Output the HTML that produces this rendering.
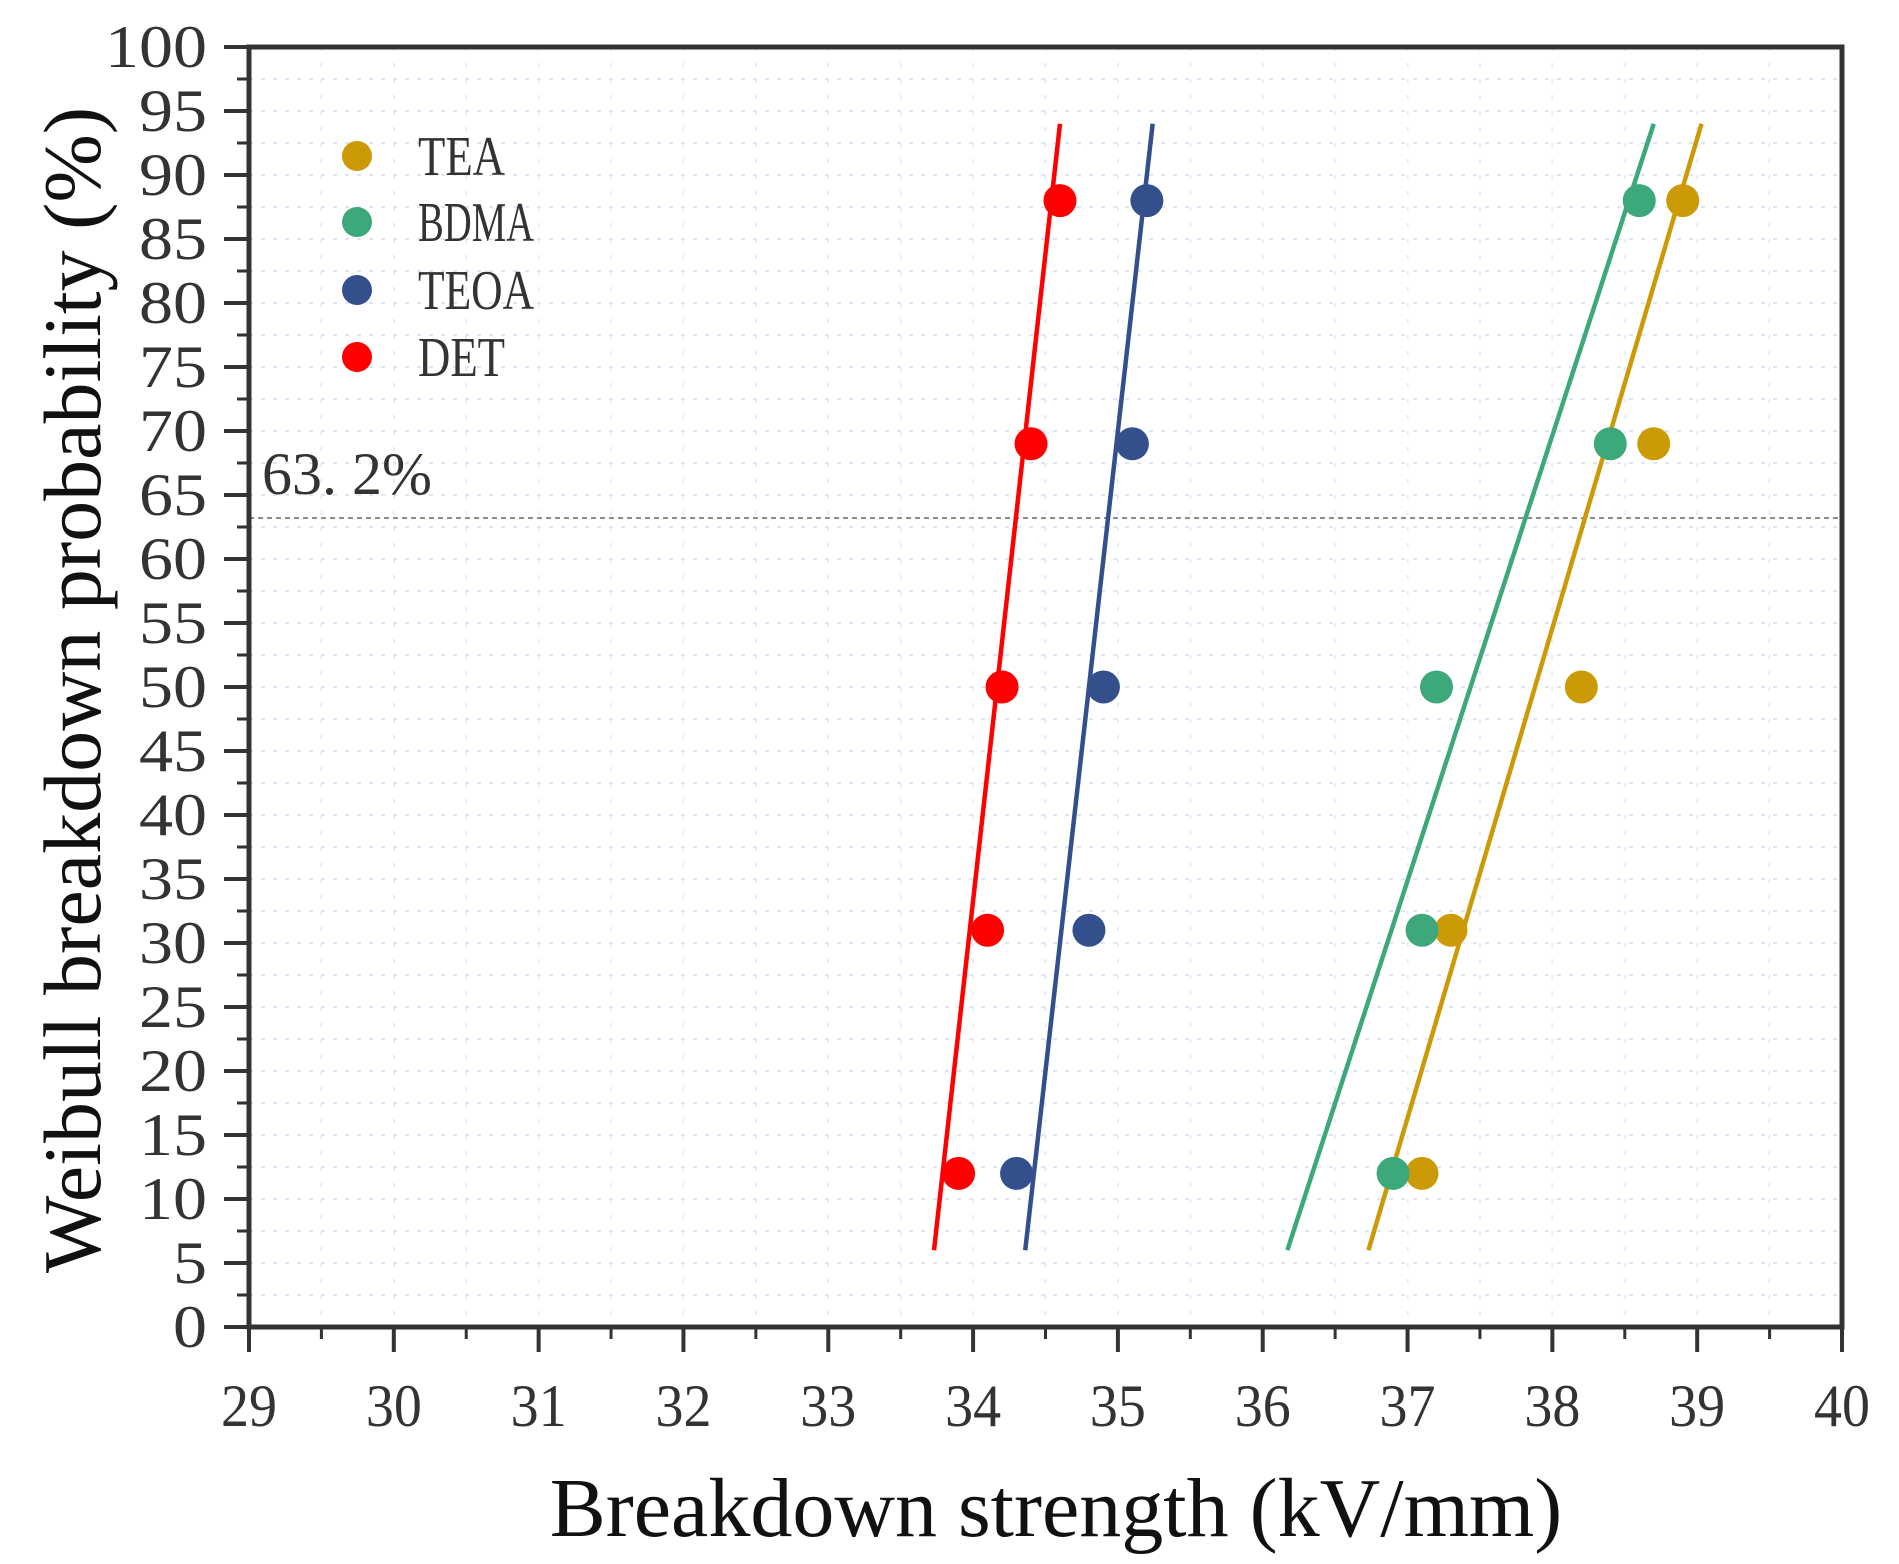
<!DOCTYPE html>
<html><head><meta charset="utf-8"><style>
html,body{margin:0;padding:0;background:#fff;}
svg{display:block;}
text{font-family:"Liberation Serif","Noto Serif CJK SC",serif;}
</style></head><body>
<svg id="chart" width="1899" height="1564" viewBox="0 0 1899 1564" xmlns="http://www.w3.org/2000/svg">
<g id="grid"></g>
<g id="ref"></g>
<g id="fits"></g>
<g id="pts"></g>
<g id="axes"></g>
<g id="legend"></g>
<text x="0" y="0" transform="translate(100,690) rotate(-90)" text-anchor="middle" font-size="82" fill="#111">Weibull breakdown probability (%)</text>
<text x="1056" y="1536" text-anchor="middle" font-size="84" fill="#111">Breakdown strength (kV/mm)</text>
</svg>
<script>
const seriesNames = ['TEA','BDMA','TEOA','DET'];
const seriesColors = ['#CC9A06','#3DA87A','#34508C','#FF0000'];
const probs = [12, 31, 50, 69, 88];
const teaX = [37.1, 37.3, 38.2, 38.7, 38.9];
const bdmaX = [36.9, 37.1, 37.2, 38.4, 38.6];
const teoaX = [34.3, 34.8, 34.9, 35.1, 35.2];
const detX = [33.9, 34.1, 34.2, 34.4, 34.6];
const fitProbs = [6, 94];
const teaFit = [36.73, 39.03];
const bdmaFit = [36.17, 38.70];
const teoaFit = [34.36, 35.24];
const detFit = [33.73, 34.60];
const xTicks = [29,30,31,32,33,34,35,36,37,38,39,40];
const yTicks = [0,5,10,15,20,25,30,35,40,45,50,55,60,65,70,75,80,85,90,95,100];
const refProb = 63.2;

const L=249, R=1842, T=47, B=1327;
const xMin=29, xMax=40, yMin=0, yMax=100;
const sx = v => L + (v-xMin)/(xMax-xMin)*(R-L);
const sy = v => B - (v-yMin)/(yMax-yMin)*(B-T);
const NS='http://www.w3.org/2000/svg';
function mk(tag, parent, attrs){const e=document.createElementNS(NS,tag);for(const k in attrs)e.setAttribute(k,attrs[k]);parent.appendChild(e);return e;}

const grid=document.getElementById('grid');
for(let v=yMin+2.5; v<yMax; v+=2.5){
  const e=mk('line',grid,{x1:L,x2:R,y1:sy(v),y2:sy(v),stroke:'#dde6f5','stroke-width':2,'stroke-dasharray':'4 8'});
  
  
}
for(let v=xMin+0.5; v<xMax; v+=0.5){
  const e=mk('line',grid,{x1:sx(v),x2:sx(v),y1:T,y2:B,stroke:'#e3ebf7','stroke-width':2,'stroke-dasharray':'4 12'});
  
  
}
const ref=document.getElementById('ref');
const rl=mk('line',ref,{x1:L,x2:R,y1:sy(refProb),y2:sy(refProb),stroke:'#666','stroke-width':1.5,'stroke-dasharray':'5 4'});


const rt=mk('text',ref,{x:262,y:sy(refProb)-24,'font-size':60,fill:'#333','textLength':170,'lengthAdjust':'spacingAndGlyphs'});
rt.textContent='63. 2%';



const allX=[teaX,bdmaX,teoaX,detX], allFit=[teaFit,bdmaFit,teoaFit,detFit];
const fits=document.getElementById('fits'), pts=document.getElementById('pts');
for(let s=0;s<4;s++){
  const f=mk('line',fits,{x1:sx(allFit[s][0]),y1:sy(fitProbs[0]),x2:sx(allFit[s][1]),y2:sy(fitProbs[1]),stroke:seriesColors[s],'stroke-width':4.5});
  
  
  for(let i=0;i<probs.length;i++){
    const c=mk('circle',pts,{cx:sx(allX[s][i]),cy:sy(probs[i]),r:16.5,fill:seriesColors[s]});
    
    
  }
}

const ax=document.getElementById('axes');
const frame=mk('rect',ax,{x:L,y:T,width:R-L,height:B-T,fill:'none',stroke:'#333','stroke-width':5});


yTicks.forEach(v=>{
  const t=mk('line',ax,{x1:L-25,x2:L,y1:sy(v),y2:sy(v),stroke:'#333','stroke-width':4});
  
  
  if(v<yMax){
    const m=mk('line',ax,{x1:L-12,x2:L,y1:sy(v+2.5),y2:sy(v+2.5),stroke:'#333','stroke-width':3});
    
    
  }
  const lb=mk('text',ax,{x:207,y:sy(v)+20,'text-anchor':'end','font-size':60,fill:'#333','textLength':String(v).length*34,'lengthAdjust':'spacingAndGlyphs'});
  lb.textContent=v;
  
  
});
xTicks.forEach(v=>{
  const t=mk('line',ax,{x1:sx(v),x2:sx(v),y1:B,y2:B+25,stroke:'#333','stroke-width':4});
  
  
  if(v<xMax){
    const m=mk('line',ax,{x1:sx(v+0.5),x2:sx(v+0.5),y1:B,y2:B+12,stroke:'#333','stroke-width':3});
    
    
  }
  const lb=mk('text',ax,{x:sx(v),y:1426,'text-anchor':'middle','font-size':60,fill:'#333','textLength':String(v).length*28,'lengthAdjust':'spacingAndGlyphs'});
  lb.textContent=v;
  
  
});

const lg=document.getElementById('legend');
const legendY=[156,222,290,357];
for(let s=0;s<4;s++){
  const c=mk('circle',lg,{cx:357,cy:legendY[s],r:15,fill:seriesColors[s]});
  
  
  const t=mk('text',lg,{x:418,y:legendY[s]+19,'font-size':56,fill:'#333','textLength':seriesNames[s].length*29,'lengthAdjust':'spacingAndGlyphs'});
  t.textContent=seriesNames[s];
  
  
}
</script>
</body></html>
